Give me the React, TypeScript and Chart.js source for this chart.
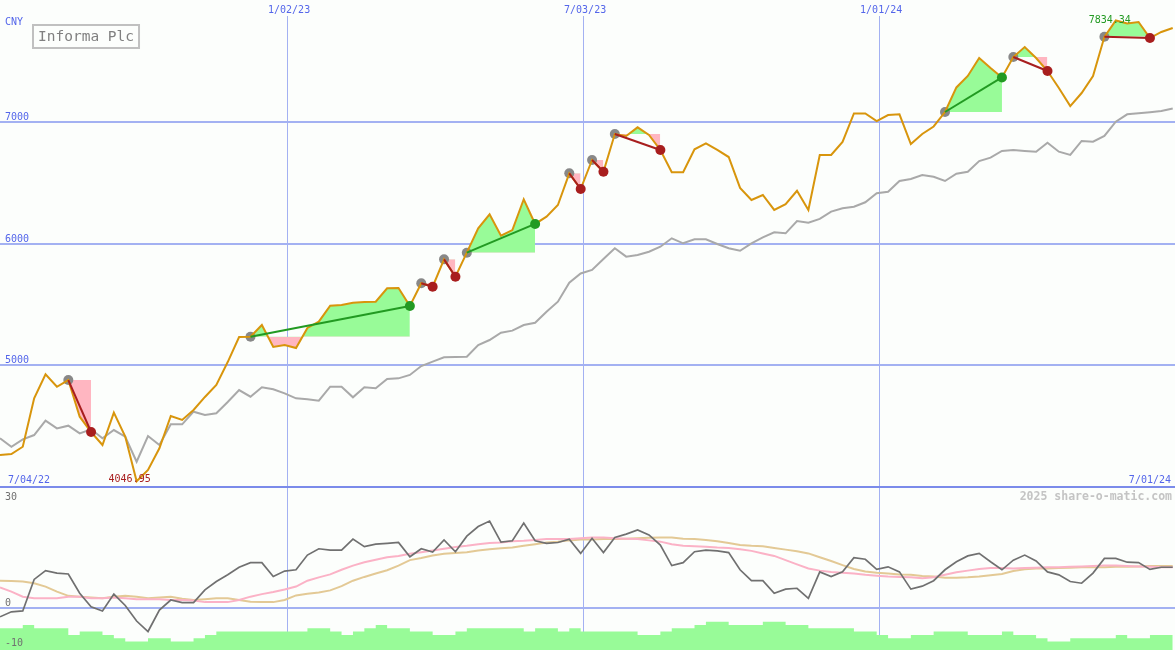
import { useEffect, useRef } from 'react';
import { Chart, registerables } from 'chart.js';

Chart.register(...registerables);

// ---------- text ----------
const title = 'Informa Plc';
const currency = 'CNY';
const startLabel = '7/04/22';
const endLabel = '7/01/24';
const dateTicks = ['1/02/23', '7/03/23', '1/01/24'];
const priceTicks = [7000, 6000, 5000];
const oscTicks = [30, 0, -10];
const watermark = '2025 share-o-matic.com';

// ---------- data (weekly) ----------
const price = [
  4263, 4271, 4331, 4729, 4926, 4824, 4879, 4578, 4452, 4345,
  4611, 4415, 4046.95, 4140, 4318, 4584, 4551, 4633, 4740, 4838,
  5027, 5233, 5235, 5331, 5151, 5167, 5142, 5307, 5359, 5490,
  5496, 5515, 5521, 5523, 5633, 5636, 5488, 5674, 5646, 5871,
  5728, 5926, 6126, 6241, 6065, 6112, 6365, 6162, 6222, 6318,
  6578, 6449, 6688, 6591, 6901, 6885, 6956, 6893, 6770, 6587,
  6587, 6776, 6825, 6770, 6712, 6458, 6359, 6400, 6277, 6324,
  6435, 6277, 6729, 6729, 6836, 7070, 7070, 7008, 7057, 7063,
  6819, 6901, 6963, 7082, 7284, 7378, 7526, 7444, 7366, 7534,
  7616, 7526, 7419, 7279, 7131, 7238, 7378, 7700, 7834.34, 7810,
  7822, 7690, 7740, 7773,
];

const market = [
  4400, 4331, 4392, 4427, 4545, 4482, 4504, 4441, 4474, 4400,
  4468, 4413, 4208, 4419, 4345, 4515, 4515, 4619, 4592, 4606,
  4699, 4797, 4742, 4819, 4803, 4770, 4729, 4721, 4709, 4824,
  4824, 4737, 4819, 4811, 4888, 4893, 4921, 4994, 5030, 5066,
  5068, 5071, 5167, 5208, 5268, 5285, 5331, 5350, 5441, 5523,
  5679, 5755, 5784, 5874, 5962, 5893, 5907, 5934, 5975, 6044,
  6003, 6036, 6036, 5997, 5962, 5942, 6003, 6052, 6093, 6085,
  6186, 6172, 6203, 6263, 6291, 6304, 6340, 6414, 6427, 6515,
  6531, 6564, 6550, 6515, 6575, 6591, 6679, 6707, 6762, 6770,
  6762, 6756, 6830, 6756, 6729, 6844, 6838, 6885, 7002, 7063,
  7071, 7080, 7090, 7111,
];

const osc = [
  -2.1, -0.9, -0.7, 6.8, 8.9, 8.3, 8.1, 3.5, 0.3, -0.7,
  3.3, 0.6, -3.1, -5.6, -0.5, 1.9, 1.3, 1.3, 4.3, 6.3,
  7.9, 9.7, 10.8, 10.8, 7.5, 8.8, 9.1, 12.6, 14.1, 13.8,
  13.8, 16.4, 14.6, 15.2, 15.4, 15.6, 12.2, 14.1, 13.3, 16.2,
  13.4, 17.1, 19.4, 20.7, 15.7, 16.0, 20.2, 16.0, 15.4, 15.6,
  16.4, 13.0, 16.6, 13.2, 16.8, 17.6, 18.6, 17.4, 15.0, 10.1,
  10.8, 13.4, 13.8, 13.6, 13.2, 9.1, 6.5, 6.5, 3.5, 4.5,
  4.7, 2.3, 8.6, 7.5, 8.6, 12.0, 11.6, 9.2, 9.8, 8.6,
  4.5, 5.2, 6.5, 9.1, 11.0, 12.4, 13.0, 11.0, 9.1, 11.4,
  12.6, 11.2, 8.6, 7.9, 6.3, 5.9, 8.3, 11.8, 11.8, 10.9,
  10.8, 9.2, 9.7, 9.7,
];

const oscFast = [
  4.9, 3.9, 2.7, 2.3, 2.3, 2.3, 2.7, 2.7, 2.3, 2.3,
  2.5, 2.3, 2.1, 2.1, 2.1, 1.9, 1.9, 1.8, 1.4, 1.4,
  1.4, 1.9, 2.7, 3.3, 3.8, 4.4, 5.1, 6.5, 7.3, 8.0,
  9.1, 10.1, 10.9, 11.5, 12.1, 12.4, 12.9, 13.3, 13.7, 14.1,
  14.5, 14.8, 15.2, 15.5, 15.6, 15.9, 16.0, 16.2, 16.4, 16.4,
  16.4, 16.6, 16.8, 16.8, 16.6, 16.5, 16.4, 16.1, 15.8, 15.2,
  14.8, 14.7, 14.6, 14.4, 14.3, 14.0, 13.6, 13.0, 12.4, 11.4,
  10.4, 9.4, 8.9, 8.6, 8.4, 8.2, 7.9, 7.7, 7.5, 7.4,
  7.3, 7.1, 7.3, 7.9, 8.5, 8.9, 9.3, 9.5, 9.5, 9.4,
  9.5, 9.6, 9.7, 9.7, 9.8, 9.9, 10.0, 10.1, 10.1, 10.0,
  9.9, 9.8, 9.7, 9.7,
];

const oscSlow = [
  6.5, 6.4, 6.3, 5.9, 5.1, 3.9, 2.9, 2.7, 2.5, 2.3,
  2.7, 2.9, 2.7, 2.3, 2.5, 2.7, 2.2, 1.9, 2.1, 2.3,
  2.3, 1.9, 1.5, 1.4, 1.4, 1.9, 3.0, 3.4, 3.7, 4.2,
  5.2, 6.5, 7.4, 8.2, 9.0, 10.1, 11.4, 11.9, 12.5, 12.9,
  13.1, 13.3, 13.7, 14.0, 14.2, 14.4, 14.8, 15.2, 15.6, 15.8,
  16.1, 16.3, 16.3, 16.4, 16.4, 16.5, 16.6, 16.7, 16.8, 16.8,
  16.5, 16.4, 16.2, 15.9, 15.5, 15.0, 14.8, 14.7, 14.3, 13.9,
  13.5, 13.0, 12.1, 11.2, 10.2, 9.3, 8.7, 8.4, 8.2, 8.0,
  7.9, 7.6, 7.5, 7.2, 7.2, 7.3, 7.5, 7.8, 8.1, 8.8,
  9.2, 9.4, 9.4, 9.5, 9.6, 9.7, 9.7, 9.7, 9.8, 9.8,
  9.9, 10.0, 10.0, 10.0,
];

const volume = [
  6, 7, 7, 8, 7, 7, 7, 5, 6, 6,
  5, 4, 3, 3, 4, 4, 3, 3, 4, 5,
  6, 6, 6, 6, 6, 6, 6, 6, 7, 7,
  6, 5, 6, 7, 8, 7, 7, 6, 6, 5,
  5, 6, 7, 7, 7, 7, 7, 6, 7, 7,
  6, 7, 6, 6, 6, 6, 6, 5, 5, 6,
  7, 7, 8, 9, 9, 8, 8, 8, 9, 9,
  8, 8, 7, 7, 7, 7, 6, 6, 5, 4,
  4, 5, 5, 6, 6, 6, 5, 5, 5, 6,
  5, 5, 4, 3, 3, 4, 4, 4, 4, 5,
  4, 4, 5, 5,
];

// pattern start / end week indexes
const patterns: [number, number][] = [
  [6, 8], [22, 36], [37, 38], [39, 40], [41, 47], [50, 51],
  [52, 53], [54, 58], [83, 88], [89, 92], [97, 101],
];

// ---------- styling ----------
const BG = '#fcfefc';
const GRID = '#a3b1f2';
const BORDER = '#7b8bea';
const BLUE_TEXT = '#5466ea';
const GREEN_FILL = '#98fb98';
const PINK_FILL = '#ffb6c1';
const UP = '#229a22';
const DOWN = '#a81e1e';
const MONO = '"DejaVu Sans Mono", "Liberation Mono", monospace';

const START_DATE = Date.UTC(2022, 6, 9, 12);
const WEEK = 7 * 86400000;
const X_MAX = 103.2;

function dateIndex(label: string) {
  const [m, d, y] = label.split('/').map(Number);
  return (Date.UTC(2000 + y, m - 1, d) - START_DATE) / WEEK;
}

const pts = (arr: number[], from = 0) => arr.map((v, i) => ({ x: i + from, y: v }));

function buildDatasets() {
  const ds: any[] = [];
  const base = { pointRadius: 0, pointHoverRadius: 0, tension: 0 };
  ds.push({ ...base, data: pts(volume), yAxisID: 'yv', stepped: 'after', fill: 'start', backgroundColor: GREEN_FILL, borderColor: 'transparent', borderWidth: 0, order: 9 });
  ds.push({ ...base, data: pts(oscSlow), yAxisID: 'y2', borderColor: '#e3c995', borderWidth: 2, fill: false, order: 8 });
  ds.push({ ...base, data: pts(oscFast), yAxisID: 'y2', borderColor: '#fbb2c6', borderWidth: 2, fill: false, order: 7 });
  ds.push({ ...base, data: pts(osc), yAxisID: 'y2', borderColor: '#707070', borderWidth: 1.7, fill: false, order: 6 });
  ds.push({ ...base, data: pts(market), yAxisID: 'y', borderColor: '#a9a9a9', borderWidth: 2, fill: false, order: 5 });
  patterns.forEach(([s, e]) => {
    const levelIdx = ds.length;
    ds.push({ ...base, data: price.slice(s, e + 1).map((_, k) => ({ x: s + k, y: price[s] })), yAxisID: 'y', borderColor: 'transparent', borderWidth: 0, fill: false, order: 4 });
    ds.push({ ...base, data: pts(price.slice(s, e + 1), s), yAxisID: 'y', borderColor: 'transparent', borderWidth: 0, fill: { target: levelIdx, above: GREEN_FILL, below: PINK_FILL }, order: 4 });
  });
  ds.push({ ...base, data: pts(price), yAxisID: 'y', borderColor: '#d8950c', borderWidth: 2, fill: false, order: 2 });
  ds.push({ data: patterns.map(([s]) => ({ x: s, y: price[s] })), yAxisID: 'y', showLine: false, pointRadius: 5, pointHoverRadius: 5, pointBackgroundColor: '#888888', pointBorderWidth: 0, order: 3 });
  patterns.forEach(([s, e]) => {
    ds.push({ ...base, data: [{ x: s, y: price[s] }, { x: e, y: price[e] }], yAxisID: 'y', borderColor: price[e] >= price[s] ? UP : DOWN, borderWidth: 2, fill: false, order: 1 });
  });
  ds.push({ data: patterns.map(([, e]) => ({ x: e, y: price[e] })), yAxisID: 'y', showLine: false, pointRadius: 5, pointHoverRadius: 5, pointBackgroundColor: patterns.map(([s, e]) => (price[e] >= price[s] ? UP : DOWN)), pointBorderWidth: 0, order: 0 });
  return ds;
}

const panelPlugin = {
  id: 'panels',
  beforeDraw(chart: any) {
    const { ctx, width, height } = chart;
    ctx.save();
    ctx.fillStyle = BG;
    ctx.fillRect(0, 0, width, height);
    ctx.restore();
  },
  beforeDatasetsDraw(chart: any) {
    const { ctx, width, height } = chart;
    const { x, y, y2 } = chart.scales;
    ctx.save();
    ctx.strokeStyle = GRID;
    ctx.lineWidth = 1;
    dateTicks.forEach((t) => {
      const px = Math.round(x.getPixelForValue(dateIndex(t))) + 0.5;
      ctx.beginPath();
      ctx.moveTo(px, 16);
      ctx.lineTo(px, height);
      ctx.stroke();
    });
    ctx.lineWidth = 2;
    priceTicks.forEach((v) => {
      const py = Math.round(y.getPixelForValue(v));
      ctx.beginPath();
      ctx.moveTo(0, py);
      ctx.lineTo(width, py);
      ctx.stroke();
    });
    const z = Math.round(y2.getPixelForValue(0));
    ctx.beginPath();
    ctx.moveTo(0, z);
    ctx.lineTo(width, z);
    ctx.stroke();
    ctx.strokeStyle = BORDER;
    const b = Math.round(y.getPixelForValue(4000));
    ctx.beginPath();
    ctx.moveTo(0, b);
    ctx.lineTo(width, b);
    ctx.stroke();
    ctx.restore();
  },
  afterDatasetsDraw(chart: any) {
    const { ctx, width, height } = chart;
    const { x, y, y2 } = chart.scales;
    const panelTop = y.getPixelForValue(4000);
    ctx.save();
    ctx.font = `10px ${MONO}`;
    ctx.fillStyle = BLUE_TEXT;
    ctx.textBaseline = 'alphabetic';
    ctx.textAlign = 'left';
    ctx.fillText(currency, 5, 25);
    priceTicks.forEach((v) => ctx.fillText(String(v), 5, y.getPixelForValue(v) - 2));
    ctx.fillText(startLabel, 8, panelTop - 4);
    ctx.textAlign = 'right';
    ctx.fillText(endLabel, width - 4, panelTop - 4);
    ctx.textAlign = 'center';
    dateTicks.forEach((t) => ctx.fillText(t, x.getPixelForValue(dateIndex(t)) + 2, 13));

    // lower panel ticks
    ctx.fillStyle = '#707070';
    ctx.textAlign = 'left';
    oscTicks.forEach((v) => {
      const py = Math.min(Math.max(y2.getPixelForValue(v) - 2, panelTop + 13), height - 4);
      ctx.fillText(String(v), 5, py);
    });

    // watermark
    ctx.font = `bold 11.5px ${MONO}`;
    ctx.fillStyle = '#c4c4c4';
    ctx.textAlign = 'right';
    ctx.fillText(watermark, width - 3, panelTop + 13);

    // min / max labels
    let iMax = 0, iMin = 0;
    price.forEach((v, i) => { if (v > price[iMax]) iMax = i; if (v < price[iMin]) iMin = i; });
    ctx.font = `10px ${MONO}`;
    ctx.textAlign = 'center';
    ctx.textBaseline = 'middle';
    ctx.fillStyle = UP;
    ctx.fillText(price[iMax].toFixed(2), x.getPixelForValue(iMax) - 6, y.getPixelForValue(price[iMax]));
    ctx.fillStyle = DOWN;
    ctx.fillText(price[iMin].toFixed(2), x.getPixelForValue(iMin) - 7, y.getPixelForValue(price[iMin]) - 2);

    // title box
    ctx.font = `14.5px ${MONO}`;
    ctx.textAlign = 'left';
    ctx.textBaseline = 'alphabetic';
    const tw = ctx.measureText(title).width;
    ctx.strokeStyle = '#c0c0c0';
    ctx.lineWidth = 2;
    ctx.strokeRect(33, 25, tw + 10, 23);
    ctx.fillStyle = '#808080';
    ctx.fillText(title, 38, 41);
    ctx.restore();
  },
};

export default function App() {
  const ref = useRef<HTMLCanvasElement>(null);
  useEffect(() => {
    if (!ref.current) return;
    const chart = new Chart(ref.current, {
      type: 'line',
      data: { datasets: buildDatasets() },
      options: {
        animation: false,
        responsive: false,
        devicePixelRatio: 1,
        events: [],
        layout: { padding: 0, autoPadding: false },
        plugins: { legend: { display: false }, tooltip: { enabled: false } },
        scales: {
          x: { type: 'linear', min: 0, max: X_MAX, display: false },
          y: { type: 'linear', min: 2660.3, max: 8002.6, display: false },
          y2: { type: 'linear', min: -10, max: 144.76, display: false },
          yv: { type: 'linear', min: 0.42, max: 0.42 + 650 / 3.3, display: false },
        },
      },
      plugins: [panelPlugin],
    } as any);
    return () => chart.destroy();
  }, []);
  return (
    <canvas
      ref={ref}
      width={1175}
      height={650}
      style={{ position: 'fixed', left: 0, top: 0, width: 1175, height: 650, display: 'block' }}
    />
  );
}
